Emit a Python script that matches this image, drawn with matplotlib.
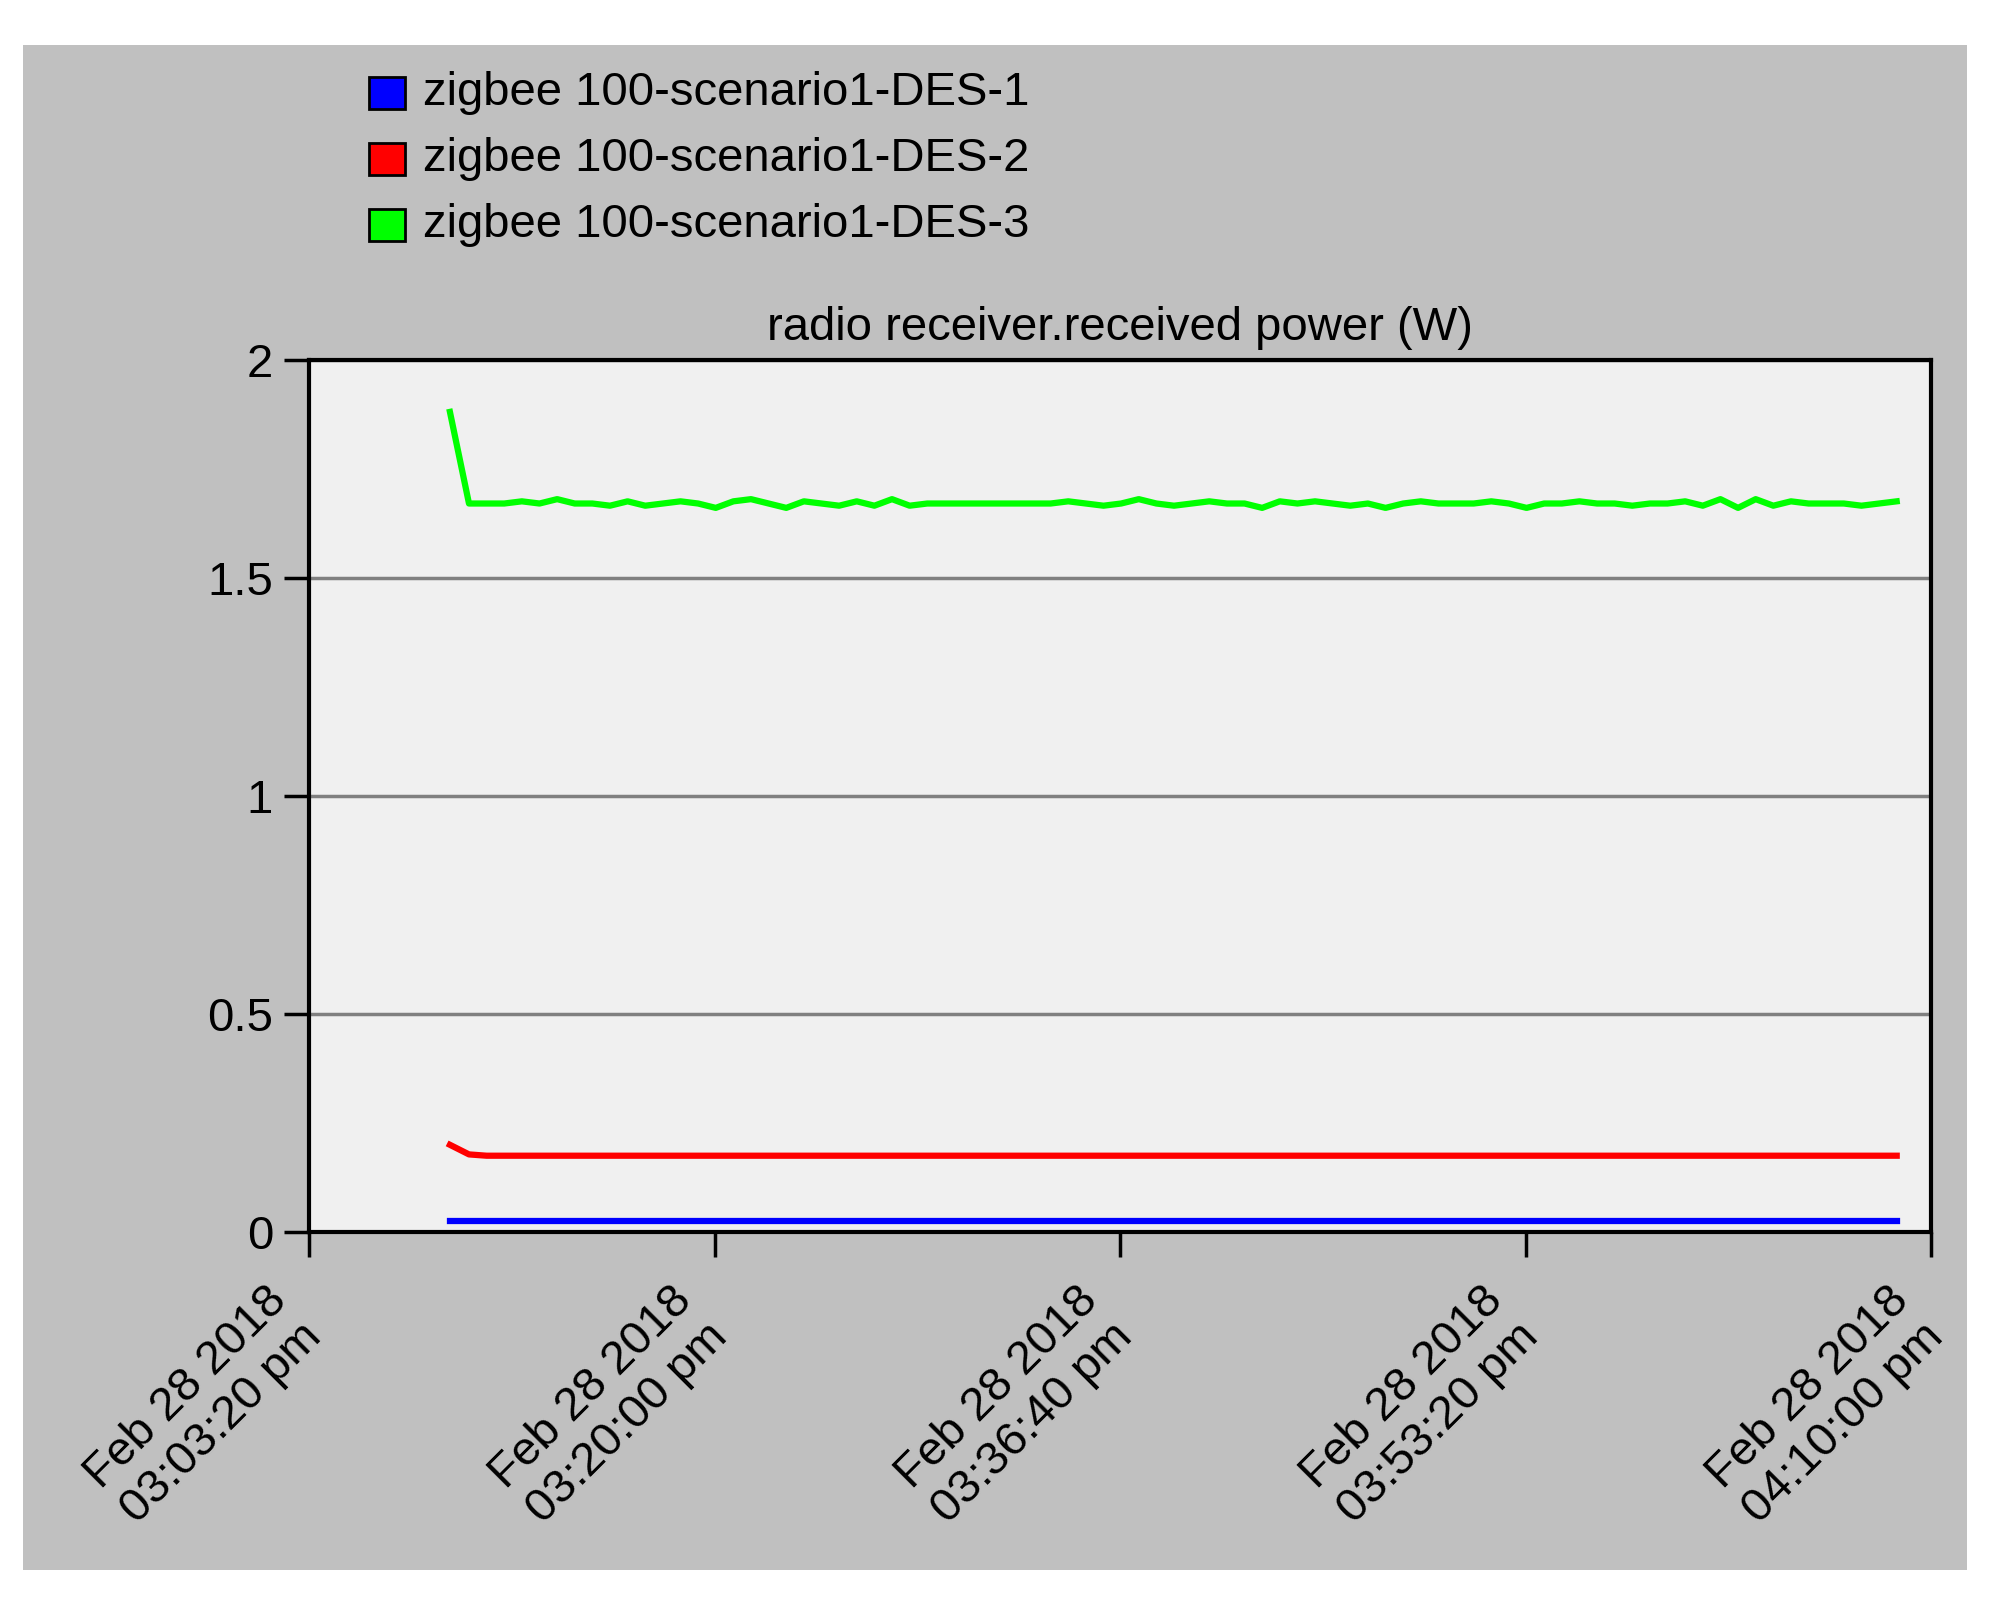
import numpy as np
import matplotlib.pyplot as plt
import matplotlib.transforms as mtransforms
from matplotlib.patches import Rectangle

plt.rcParams['font.family'] = ['Liberation Sans', 'DejaVu Sans']

# seconds after Feb 28 2018 03:03:20 pm
tick_secs = [0, 1000, 2000, 3000, 4000]
tick_labels = ["Feb 28 2018\n03:03:20 pm", "Feb 28 2018\n03:20:00 pm", "Feb 28 2018\n03:36:40 pm",
               "Feb 28 2018\n03:53:20 pm", "Feb 28 2018\n04:10:00 pm"]
series_names = ["zigbee 100-scenario1-DES-1", "zigbee 100-scenario1-DES-2", "zigbee 100-scenario1-DES-3"]
series_colors = ["#0000ff", "#ff0000", "#00ff00"]

green = [1.88, 1.67, 1.67, 1.67, 1.675, 1.67, 1.68, 1.67, 1.67, 1.665, 1.675, 1.665, 1.67, 1.675,
         1.67, 1.66, 1.675, 1.68, 1.67, 1.66, 1.675, 1.67, 1.665, 1.675, 1.665, 1.68, 1.665, 1.67,
         1.67, 1.67, 1.67, 1.67, 1.67, 1.67, 1.67, 1.675, 1.67, 1.665, 1.67, 1.68, 1.67, 1.665,
         1.67, 1.675, 1.67, 1.67, 1.66, 1.675, 1.67, 1.675, 1.67, 1.665, 1.67, 1.66, 1.67, 1.675,
         1.67, 1.67, 1.67, 1.675, 1.67, 1.66, 1.67, 1.67, 1.675, 1.67, 1.67, 1.665, 1.67, 1.67,
         1.675, 1.665, 1.68, 1.66, 1.68, 1.665, 1.675, 1.67, 1.67, 1.67, 1.665, 1.67, 1.675]
red = [0.2, 0.178] + [0.175] * (len(green) - 2)
blue = [0.025] * len(green)

t = np.concatenate([[347], np.linspace(394, 3915, len(green) - 1)])

fig = plt.figure(figsize=(19.95, 15.98), dpi=100)
fig.patches.append(Rectangle((0.0115, 0.0176), 0.9745, 0.9544, transform=fig.transFigure,
                             facecolor="#c0c0c0", edgecolor="none", zorder=-1))
ax = fig.add_axes([0.155, 0.229, 0.813, 0.546])
ax.set_facecolor("#f0f0f0")

for vals, c in zip([blue, red, green], series_colors):
    ax.plot(t, vals, color=c, lw=4.5)

ax.set_xlim(0, 4000)
ax.set_ylim(0, 2)
ax.set_yticks([0, 0.5, 1, 1.5, 2])
ax.set_yticklabels(["0", "0.5", "1", "1.5", "2"])
ax.yaxis.grid(True, color="#808080", lw=2.5)
ax.set_axisbelow(True)
ax.set_xticks(tick_secs)
ax.set_xticklabels(tick_labels, rotation=45, ha="right", va="top", rotation_mode="anchor",
                   multialignment="center")
ax.tick_params(labelsize=34, length=18, width=2.5, direction="out", pad=8)
shift = mtransforms.ScaledTranslation(-0.45, -0.1, fig.dpi_scale_trans)
for lbl in ax.get_xticklabels():
    lbl.set_transform(lbl.get_transform() + shift)
for s in ax.spines.values():
    s.set_linewidth(3)
ax.set_title("radio receiver.received power (W)", fontsize=34, pad=14)

# legend
for i, (name, c) in enumerate(zip(series_names, series_colors)):
    y = 0.942 - i * 0.0415
    fig.patches.append(Rectangle((0.185, y - 0.01), 0.018, 0.02, transform=fig.transFigure,
                                 facecolor=c, edgecolor="black", lw=2))
    fig.text(0.212, y, name, fontsize=34, va="center", ha="left")

fig.savefig("out.png", dpi=100)
